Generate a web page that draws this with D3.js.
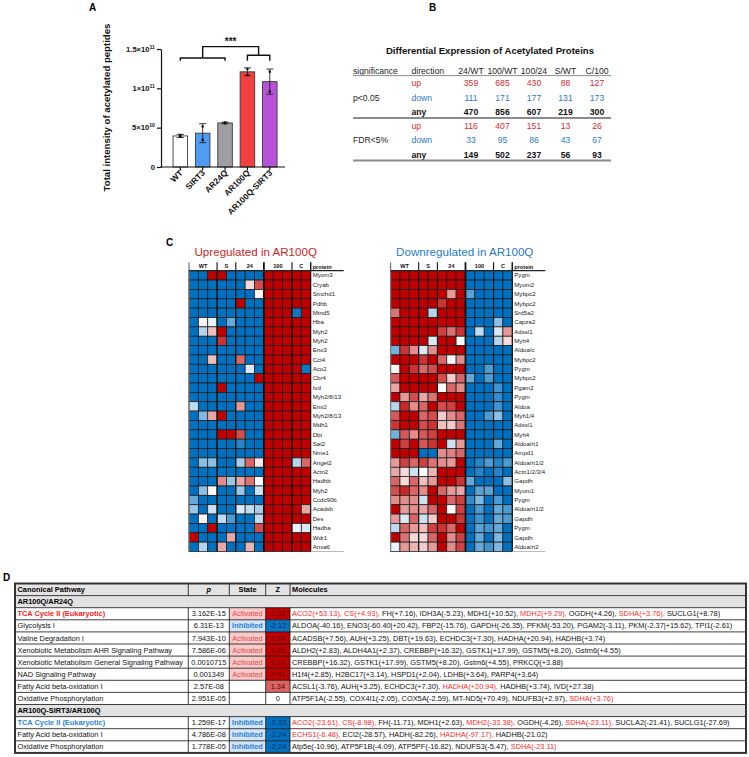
<!DOCTYPE html>
<html><head><meta charset="utf-8">
<script src="https://cdn.jsdelivr.net/npm/d3@7"></script>
<style>body{margin:0;background:#fff}svg{display:block}</style>
</head><body>
<script>
// ================= DATA =================
// Panel A
const groupsA = ["WT","SIRT3","AR24Q","AR100Q","AR100Q-SIRT3"];
const meansA = [3.95e10, 4.3e10, 5.6e10, 1.21e11, 1.085e11];
const sdA = [0.2e10, 1.2e10, 0.1e10, 0.5e10, 1.6e10];
const pointsA = [[3.85e10,4.05e10],[5.15e10,3.45e10],[5.55e10,5.65e10],[1.245e11,1.17e11],[1.21e11,0.96e11]];
const colorsA = ["#ffffff","#4f9cf2","#9e9ea3","#f23f3f","#b653d9"];
const yTicksA = [0, 5e10, 1e11, 1.5e11];
const yTickBase = ["0","5×10","1×10","1.5×10"];
const yTickExp = ["","10","11","11"];
const yTitleA = "Total intensity of acetylated peptides";

// Panel B
const bTitle = "Differential Expression of Acetylated Proteins";
const bCols = ["24/WT","100/WT","100/24","S/WT","C/100"];
const bSig = ["p<0.05","FDR<5%"];
const bDirs = ["up","down","any"];
const pUp = [359,685,430,88,127];
const pDown = [111,171,177,131,173];
const pAny = [470,856,607,219,300];
const fUp = [116,407,151,13,26];
const fDown = [33,95,86,43,67];
const fAny = [149,502,237,56,93];

// Panel C
const heatGroups = ["WT","S","24","100","C"];
const heatGroupSizes = [3,2,3,3,2];
const upProteins = ["Myom3","Cryab","Smchd1","Pdhb","Mtnd5","Hba","Myh2","Myh2","Eno3","Cct4","Aco2","Cbr4","Ivd","Myh2/8/13","Emi2","Myh2/8/13","Mdh1","Dbt","Sat2","Nme1","Angel2","Actn2","Hadhb","Myh2","Ccdc90b","Acadsb","Des","Hadha","Wdr1","Anxa6"];
const upValues = [
 [-1,-1,1,1,-1,-1,-1,-1,1,1,1,1,1],
 [-1,-1,-1,-1,-1,-1,0.15,0.7,1,1,1,1,1],
 [-1,-1,-1,-1,-1,-1,-1,0.05,1,1,1,1,1],
 [-1,-1,-1,-1,-1,1,-1,-1,1,1,1,1,1],
 [-1,-1,-1,-1,-1,-1,-1,-1,1,1,1,-0.95,1],
 [-1,0.05,-0.1,-1,-0.6,-1,-1,-1,1,1,1,1,1],
 [-1,-0.3,0.25,1,-1,-1,-1,-1,1,1,1,1,1],
 [-1,-1,-1,0.8,-1,-1,-1,-1,1,1,1,1,1],
 [-1,-1,-1,-1,-1,-1,-1,-1,1,1,1,1,1],
 [-1,-1,0.25,-1,-1,0.6,-1,-1,1,1,1,1,1],
 [-1,-1,-1,-1,-1,-1,-0.15,-1,1,1,1,1,-0.95],
 [-1,-1,-1,-1,-1,-1,-1,1,1,1,1,1,1],
 [-1,-1,-1,1,-1,-1,-1,-1,1,1,1,1,1],
 [-1,-1,-1,-1,-1,-1,-1,-1,1,1,1,1,1],
 [-0.25,-1,-1,-1,-1,0.4,-1,-1,1,1,1,1,1],
 [-1,-0.5,0.35,1,-1,-1,-1,-1,1,1,1,1,1],
 [-1,-1,-1,-1,-1,-1,-1,-1,1,1,1,1,1],
 [-1,-1,-1,1,1,0.7,-1,-1,1,1,1,1,1],
 [-1,-1,-1,-1,-1,-0.85,-1,-1,1,1,1,1,1],
 [-1,-1,-1,-1,-1,-1,-1,-1,1,1,1,1,1],
 [-1,-0.45,-0.45,-1,-1,-0.35,0.6,0.1,1,1,1,-0.3,0.6],
 [-1,-1,-1,-1,-1,-1,-1,-1,1,1,1,1,1],
 [-1,-1,-1,0.45,-0.4,0.35,0.55,0,1,1,1,1,1],
 [-1,-0.45,0.02,-1,-1,-0.4,-1,-0.2,1,1,1,1,1],
 [-0.6,-1,-1,-1,-1,-1,-1,-1,1,1,1,1,1],
 [-0.4,-1,-0.2,-1,-1,-0.15,-0.25,-0.35,1,1,1,1,0.35],
 [-1,0.05,-1,-0.25,-0.7,-1,-1,-0.25,1,1,1,1,1],
 [-1,-1,1,-1,-1,-1,-1,0.7,1,1,1,-0.08,-0.15],
 [1,-1,-1,-1,0.35,-1,-1,-1,1,1,1,1,1],
 [-1,-0.3,-1,0.35,-1,-1,0.3,-1,1,1,1,1,1]
];
const downProteins = ["Pygm","Myom2","Mybpc2","Mybpc2","Srd5a2","Capza2","Adssl1","Myh4","Aldoa/c","Mybpc2","Pygm","Mybpc2","Pgam2","Pygm","Aldoa","Myh1/4","Adssl1","Myh4","Aldoa/rt1","Ampd1","Aldoa/rt1/2","Actn1/2/3/4","Gapdh","Myom1","Pygm","Aldoa/rt1/2","Gapdh","Pygm","Gapdh","Aldoa/rt2"];
const downValues = [
 [1,1,1,1,1,1,1,1,-1,-1,-1,-1,-1],
 [1,1,1,1,1,1,1,1,-1,-1,-1,-1,-1],
 [1,1,1,1,1,1,0.4,1,-0.65,-1,-1,-1,-1],
 [1,1,1,1,1,0.8,1,1,-1,-1,-1,-1,-1],
 [0.55,1,1,1,-0.3,1,1,1,-1,-1,-1,-1,-1],
 [1,1,1,1,1,1,1,1,-1,-1,-1,-0.45,-1],
 [1,1,1,1,1,0.75,0.55,0.8,-1,-0.25,-1,-0.15,0.4],
 [1,1,1,1,-0.15,1,1,0,-1,-1,-1,-0.3,0.15],
 [-0.55,0.8,0.45,-0.15,0.45,1,1,1,-1,-1,-1,-1,-1],
 [1,1,1,0.8,1,0.6,-0.05,0.45,-1,-1,-1,-1,-1],
 [0.05,1,0.8,0.6,0.7,1,1,1,-1,-1,-0.7,-1,-1],
 [0.65,1,1,1,1,0.7,0.2,0.6,-0.6,-1,-0.7,-1,-1],
 [0.35,1,1,1,1,0.02,0.6,0.45,-1,-1,-1,-0.75,-1],
 [1,0.4,0.7,0.35,0.55,1,1,1,-1,-1,-1,-0.8,-1],
 [-0.3,0.85,0.45,0.6,1,0.7,0.75,1,-1,-1,-1,-0.75,-1],
 [0.65,1,1,0.6,0.7,0.2,0.45,0.6,-1,-1,-0.7,-0.45,-1],
 [0.8,1,1,0.7,0.8,0.25,0.2,0.55,-1,-1,-1,-1,-1],
 [-0.55,0.65,0.45,0.65,0.75,1,1,1,-1,-1,-1,-1,-1],
 [1,0.75,1,0.65,0.8,1,-0.2,0.4,-1,-1,-1,-0.6,-1],
 [1,1,1,-1,-1,0.45,0.5,0.6,-1,-1,-1,-1,-1],
 [0.4,0.75,0.6,0.75,0.55,0.45,0.4,1,-1,-0.85,-0.7,-0.85,-0.7],
 [0.35,0.15,-0.2,0,0.3,1,1,1,-1,-0.85,-1,-0.85,-1],
 [0.6,0.15,0.6,0.25,0.4,1,1,0.8,-0.6,-1,-1,-1,-0.45],
 [0.7,0.85,0.6,0.45,1,0.6,0.4,0.35,-1,-0.65,-0.65,-1,-1],
 [0.45,0.45,0.45,-0.2,1,1,0.6,0.75,-0.8,-0.5,-1,-0.7,-1],
 [1,0.4,0.45,0.35,0.6,1,0,0.75,-1,-0.7,-1,-0.6,-0.7],
 [0.4,-0.15,0.6,-0.2,0.2,1,1,0.8,-1,-0.75,-1,-0.6,-0.7],
 [-0.25,0.6,0.4,0.25,0.75,0.8,0.6,1,-1,-0.65,-0.75,-0.6,-1],
 [1,0.55,0.15,0.15,0.6,1,0.45,0.75,-1,-0.6,-1,-0.5,-1],
 [-0.1,0.4,0.3,0.2,0.4,1,0.45,0.75,-1,-0.6,-0.75,-0.5,-1]
];

// Panel D
const dHeaders = ["Canonical Pathway","p","State","Z","Molecules"];
const dSections = ["AR100Q/AR24Q","AR100Q-SIRT3/AR100Q"];
const dSectionOf = [0,0,0,0,0,0,0,0,1,1,1];
const dPathways = ["TCA Cycle II (Eukaryotic)","Glycolysis I","Valine Degradation I","Xenobiotic Metabolism AHR Signaling Pathway","Xenobiotic Metabolism General Signaling Pathway","NAD Signaling Pathway","Fatty Acid beta-oxidation I","Oxidative Phosphorylation","TCA Cycle II (Eukaryotic)","Fatty Acid beta-oxidation I","Oxidative Phosphorylation"];
const dP = ["3.162E-15","6.31E-13","7.943E-10","7.586E-06","0.0010715","0.001349","2.57E-08","2.951E-05","1.259E-17","4.786E-08","1.778E-05"];
const dState = ["Activated","Inhibited","Activated","Activated","Activated","Activated","","","Inhibited","Inhibited","Inhibited"];
const dZ = [2.33,-2.12,2.24,2.45,2.24,2.24,1.34,0,-2.33,-2.24,-2.24];
const dMolecules = [
 "ACO2(+53.13), CS(+4.93), FH(+7.16), IDH3A(-5.23), MDH1(+10.52), MDH2(+9.29), OGDH(+4.26), SDHA(+3.76), SUCLG1(+8.78)",
 "ALDOA(-40.16), ENO3(-60.40|+20.42), FBP2(-15.76), GAPDH(-26.35), PFKM(-53.20), PGAM2(-3.11), PKM(-2.37|+15.62), TPI1(-2.61)",
 "ACADSB(+7.56), AUH(+3.25), DBT(+19.63), ECHDC3(+7.30), HADHA(+20.94), HADHB(+3.74)",
 "ALDH2(+2.83), ALDH4A1(+2.37), CREBBP(+16.32), GSTK1(+17.99), GSTM5(+8.20), Gstm6(+4.55)",
 "CREBBP(+16.32), GSTK1(+17.99), GSTM5(+8.20), Gstm6(+4.55), PRKCQ(+3.88)",
 "H1f4(+2.85), H2BC17(+3.14), HSPD1(+2.04), LDHB(+3.64), PARP4(+3.64)",
 "ACSL1(-3.76), AUH(+3.25), ECHDC3(+7.30), HADHA(+20.94), HADHB(+3.74), IVD(+27.38)",
 "ATP5F1A(-2.55), COX4I1(-2.05), COX5A(-2.59), MT-ND5(+70.49), NDUFB3(+2.97), SDHA(+3.76)",
 "ACO2(-23.61), CS(-8.98), FH(-11.71), MDH1(+2.63), MDH2(-33.38), OGDH(-4.26), SDHA(-23.11), SUCLA2(-21.41), SUCLG1(-27.69)",
 "ECHS1(-6.48), ECI2(-28.57), HADH(-82.26), HADHA(-97.17), HADHB(-21.02)",
 "Atp5e(-10.96), ATP5F1B(-4.09), ATP5PF(-16.82), NDUFS3(-5.47), SDHA(-23.11)"
];
const dHighlight = [["ACO2","CS","MDH2","SDHA"],[],[],[],[],[],["HADHA"],["SDHA"],["ACO2","CS","MDH2","SDHA"],["ECHS1","HADHA"],["SDHA"]];

// ================= DRAW =================
const FONT = "'Liberation Sans',Arial,sans-serif";
const svg = d3.select("body").append("svg").attr("width",749).attr("height",757)
  .style("font-family",FONT);

function label(t,x,y){svg.append("text").attr("x",x).attr("y",y).attr("font-size",10).attr("font-weight","bold").text(t);}
label("A",89,11); label("B",429,11); label("C",166,246); label("D",3,581);

// ---------- Panel A ----------
(function(){
  const g = svg.append("g");
  const x = d3.scaleBand().domain(groupsA).range([165.2,284.9]).paddingInner(0.35).paddingOuter(0.35);
  const y = d3.scaleLinear().domain([0,1.5e11]).range([167,49]);
  // bars
  g.selectAll("rect.bar").data(groupsA).join("rect").attr("class","bar")
    .attr("x",d=>x(d)).attr("width",x.bandwidth())
    .attr("y",(d,i)=>y(meansA[i])).attr("height",(d,i)=>y(0)-y(meansA[i]))
    .attr("fill",(d,i)=>colorsA[i]).attr("stroke","#3a3a3a").attr("stroke-width",0.9);
  // error bars
  groupsA.forEach((d,i)=>{
    const cx = x(d)+x.bandwidth()/2;
    const lo=y(meansA[i]-sdA[i]), hi=y(meansA[i]+sdA[i]);
    g.append("line").attr("x1",cx).attr("x2",cx).attr("y1",lo).attr("y2",hi).attr("stroke","#222").attr("stroke-width",0.9);
    [lo,hi].forEach(v=>g.append("line").attr("x1",cx-3.5).attr("x2",cx+3.5).attr("y1",v).attr("y2",v).attr("stroke","#222").attr("stroke-width",0.9));
    pointsA[i].forEach((p,j)=>{
      if(j===0) g.append("circle").attr("cx",cx).attr("cy",y(p)).attr("r",1.3).attr("fill","#111");
      else g.append("rect").attr("x",cx-1.2).attr("y",y(p)-1.2).attr("width",2.4).attr("height",2.4).attr("fill","#111");
    });
  });
  // y axis
  const ya = g.append("g").attr("transform","translate(161,0)")
    .call(d3.axisLeft(y).tickValues(yTicksA).tickSize(4).tickSizeOuter(0).tickFormat(""));
  ya.selectAll("path,line").attr("stroke","#111").attr("stroke-width",1.2);
  yTicksA.forEach((v,i)=>{
    const t = g.append("text").attr("x",155).attr("y",y(v)+2.8).attr("text-anchor","end")
      .attr("font-size",7.6).attr("font-weight","bold").attr("fill","#111");
    t.append("tspan").text(yTickBase[i]);
    if(yTickExp[i]) t.append("tspan").attr("font-size",5.2).attr("dy",-3.2).text(yTickExp[i]);
  });
  // x axis
  g.append("line").attr("x1",160.4).attr("x2",285).attr("y1",167).attr("y2",167).attr("stroke","#111").attr("stroke-width",1.2);
  groupsA.forEach(d=>{
    const cx = x(d)+x.bandwidth()/2;
    g.append("line").attr("x1",cx).attr("x2",cx).attr("y1",167).attr("y2",170.5).attr("stroke","#111").attr("stroke-width",1.2);
    g.append("text").attr("transform",`translate(${cx+3},${173.5}) rotate(-45)`).attr("text-anchor","end")
      .attr("font-size",8.4).attr("font-weight","bold").attr("fill","#111").text(d);
  });
  // y title
  g.append("text").attr("transform","translate(109.5,107.5) rotate(-90)").attr("text-anchor","middle")
    .attr("font-size",9.6).attr("font-weight","bold").attr("fill","#111").text(yTitleA);
  // significance brackets
  const cxs = groupsA.map(d=>x(d)+x.bandwidth()/2);
  const br = g.append("g").attr("fill","none").attr("stroke","#111").attr("stroke-width",1.4);
  const yl = y(1.385e11), yr = y(1.42e11), yleg = y(1.35e11), yt = y(1.53e11);
  br.append("path").attr("d",`M${cxs[0]},${yleg}V${yl}H${cxs[2]}V${yleg}`);
  br.append("path").attr("d",`M${cxs[3]},${yleg}V${yr}H${cxs[4]}V${yleg}`);
  const ml=(cxs[0]+cxs[2])/2, mr=(cxs[3]+cxs[4])/2;
  br.append("path").attr("d",`M${ml},${yl}V${yt}H${mr}V${yr}`);
  g.append("text").attr("x",(ml+mr)/2).attr("y",yt-2).attr("text-anchor","middle").attr("font-size",10)
    .attr("font-weight","bold").attr("fill","#111").text("***");
})();

// ---------- Panel B ----------
(function(){
  const g = svg.append("g");
  g.append("text").attr("x",490).attr("y",53.5).attr("text-anchor","middle").attr("font-size",9.6)
    .attr("font-weight","bold").attr("fill","#111").text(bTitle);
  const x = d3.scalePoint().domain(bCols).range([471,597]);
  const fs = 8.6;
  const hy = 73.5;
  g.append("text").attr("x",353).attr("y",hy).attr("font-size",fs).attr("fill","#222").text("significance");
  g.append("text").attr("x",411.5).attr("y",hy).attr("font-size",fs).attr("fill","#222").text("direction");
  bCols.forEach(c=>g.append("text").attr("x",x(c)).attr("y",hy).attr("text-anchor","middle").attr("font-size",fs).attr("fill","#222").text(c));
  const blocks = [[pUp,pDown,pAny],[fUp,fDown,fAny]];
  const dirColor = ["#d9272e","#2f78c8","#111"];
  const y0 = 83.3, step = 14.25;
  blocks.forEach((blk,bi)=>{
    blk.forEach((vals,ri)=>{
      const yy = y0 + (bi*3+ri)*step + 3;
      g.append("text").attr("x",411.5).attr("y",yy).attr("font-size",fs).attr("fill",dirColor[ri])
        .attr("font-weight",ri===2?"bold":"normal").text(bDirs[ri]);
      vals.forEach((v,ci)=>g.append("text").attr("x",x(bCols[ci])).attr("y",yy).attr("text-anchor","middle")
        .attr("font-size",fs).attr("fill",dirColor[ri]).attr("font-weight",ri===2?"bold":"normal").text(v));
    });
    g.append("text").attr("x",353).attr("y",y0+(bi*3+1)*step+3).attr("font-size",fs).attr("fill","#222").text(bSig[bi]);
  });
  g.append("line").attr("x1",353).attr("x2",611).attr("y1",75.6).attr("y2",75.6).attr("stroke","#8c8c8c").attr("stroke-width",1);
  [118,160.5].forEach(v=>g.append("line").attr("x1",353).attr("x2",611).attr("y1",v).attr("y2",v).attr("stroke","#8c8c8c").attr("stroke-width",1.8));
})();

// ---------- Panel C ----------
const heatColor = d3.scaleLinear().domain([-1,0,1]).range(["#0070c0","#ffffff","#c00000"]);
function drawHeat(x0,y0,proteins,values,title,titleColor){
  const g = svg.append("g");
  const cw = 9.36;
  const ncol = values[0].length;
  const x = d3.scaleBand().domain(d3.range(ncol)).range([x0,x0+ncol*cw]);
  const y = d3.scaleBand().domain(d3.range(proteins.length)).range([y0,y0+proteins.length*cw]);
  g.append("text").attr("x",x0+5.5).attr("y",y0-14.5).attr("font-size",11.6).attr("fill",titleColor).text(title);
  values.forEach((row,ri)=>row.forEach((v,ci)=>{
    g.append("rect").attr("x",x(ci)).attr("y",y(ri)).attr("width",cw).attr("height",cw)
      .attr("fill",heatColor(v)).attr("stroke","#1a1a1a").attr("stroke-width",0.75);
  }));
  const xr = x0+ncol*cw, yb = y0+proteins.length*cw;
  // group boundaries
  let acc=0; const bounds=[0];
  heatGroupSizes.forEach(s=>{acc+=s;bounds.push(acc);});
  bounds.forEach((b,i)=>{
    const bx = x0+b*cw;
    const w = (b===8)?1.8:(i===0?1.2:1.1);
    g.append("line").attr("x1",bx).attr("x2",bx).attr("y1",y0-8.5).attr("y2",i===0?yb:y0).attr("stroke",i===0?"#777":"#111").attr("stroke-width",w);
    if(i>0 && i<bounds.length-1) g.append("line").attr("x1",bx).attr("x2",bx).attr("y1",y0).attr("y2",yb).attr("stroke","#111").attr("stroke-width",w);
  });
  g.append("line").attr("x1",xr).attr("x2",xr).attr("y1",y0-8.5).attr("y2",yb).attr("stroke","#111").attr("stroke-width",1.1);
  heatGroups.forEach((gr,i)=>{
    const cx = x0+(bounds[i]+bounds[i+1])/2*cw;
    g.append("text").attr("x",cx).attr("y",y0-2.5).attr("text-anchor","middle").attr("font-size",5.6).attr("font-weight","bold").attr("fill","#111").text(gr);
  });
  g.append("text").attr("x",xr+2).attr("y",y0-2.2).attr("font-size",5.6).attr("font-weight","bold").attr("fill","#111").text("protein");
  g.append("line").attr("x1",x0).attr("x2",xr+33).attr("y1",y0).attr("y2",y0).attr("stroke","#222").attr("stroke-width",1.3);
  g.append("line").attr("x1",xr).attr("x2",xr+33).attr("y1",yb).attr("y2",yb).attr("stroke","#aaa").attr("stroke-width",0.8);
  proteins.forEach((p,ri)=>g.append("text").attr("x",xr+2).attr("y",y(ri)+cw/2+2.1)
    .attr("font-size",6.1).attr("fill","#222").text(p));
}
drawHeat(189,270.7,upProteins,upValues,"Upregulated in AR100Q","#cc1f26");
drawHeat(390.6,270.7,downProteins,downValues,"Downregulated in AR100Q","#2479d0");

// ---------- Panel D ----------
(function(){
  const g = svg.append("g");
  const L=15, R=746, cP=188.3, cS=229.3, cZ=265.7, cM=290;
  const top=583.5, rh=12.1;
  const rows=[{type:"header"}];
  dSections.forEach((s,si)=>{
    rows.push({type:"section",text:s});
    dPathways.forEach((p,i)=>{ if(dSectionOf[i]===si) rows.push({type:"data",i}); });
  });
  const y = d3.scaleBand().domain(d3.range(rows.length)).range([top,top+rows.length*rh]);
  const fs=7.4;
  const zColor = d3.scaleLinear().domain([-2.2,0,2.2]).range(["#0070c0","#ffffff","#c00000"]).clamp(true);
  rows.forEach((r,ri)=>{
    const ry=y(ri), cy=ry+rh/2, by=cy+2.6;
    if(r.type==="header"){
      g.append("rect").attr("x",L).attr("y",ry).attr("width",R-L).attr("height",rh).attr("fill","#e4e4e4");
      g.append("text").attr("x",L+2.5).attr("y",by).attr("font-size",fs).attr("font-weight","bold").text(dHeaders[0]);
      g.append("text").attr("x",(cP+cS)/2).attr("y",by).attr("text-anchor","middle").attr("font-size",fs).attr("font-weight","bold").attr("font-style","italic").text(dHeaders[1]);
      g.append("text").attr("x",(cS+cZ)/2).attr("y",by).attr("text-anchor","middle").attr("font-size",fs).attr("font-weight","bold").text(dHeaders[2]);
      g.append("text").attr("x",(cZ+cM)/2).attr("y",by).attr("text-anchor","middle").attr("font-size",fs).attr("font-weight","bold").text(dHeaders[3]);
      g.append("text").attr("x",cM+2).attr("y",by).attr("font-size",fs).attr("font-weight","bold").text(dHeaders[4]);
    } else if(r.type==="section"){
      g.append("rect").attr("x",L).attr("y",ry).attr("width",R-L).attr("height",rh).attr("fill","#e2e2e2");
      g.append("text").attr("x",L+2.5).attr("y",by).attr("font-size",fs).attr("font-weight","bold").text(r.text);
    } else {
      const i=r.i;
      const isTCA = dPathways[i].startsWith("TCA");
      g.append("text").attr("x",L+2.5).attr("y",by).attr("font-size",fs)
        .attr("font-weight",isTCA?"bold":"normal")
        .attr("fill",isTCA?(dSectionOf[i]===0?"#ff2020":"#2f86d8"):"#111").text(dPathways[i]);
      g.append("text").attr("x",(cP+cS)/2).attr("y",by).attr("text-anchor","middle").attr("font-size",fs).attr("fill","#111").text(dP[i]);
      if(dState[i]){
        const act = dState[i]==="Activated";
        g.append("rect").attr("x",cS).attr("y",ry).attr("width",cZ-cS).attr("height",rh).attr("fill",act?"#f8caca":"#d3e5f6");
        g.append("text").attr("x",(cS+cZ)/2).attr("y",by).attr("text-anchor","middle").attr("font-size",fs)
          .attr("font-weight",act?"normal":"bold").attr("fill",act?"#e24a4a":"#2e7fd2").text(dState[i]);
      }
      g.append("rect").attr("x",cZ).attr("y",ry).attr("width",cM-cZ).attr("height",rh).attr("fill",zColor(dZ[i]));
      g.append("text").attr("x",(cZ+cM)/2).attr("y",by).attr("text-anchor","middle").attr("font-size",fs)
        .attr("fill",dZ[i]>0?"#5c0000":(dZ[i]<0?"#0b2c5c":"#111")).text(dZ[i]===0?"0":dZ[i].toFixed(2));
      const t = g.append("text").attr("x",cM+2).attr("y",by).attr("font-size",fs).attr("fill","#111");
      const items = dMolecules[i].split(", ");
      items.forEach((it,k)=>{
        const name = it.split("(")[0];
        t.append("tspan").attr("fill",dHighlight[i].includes(name)?"#ff2a2a":"#111").text(it+(k<items.length-1?",":""));
        if(k<items.length-1) t.append("tspan").text(" ");
      });
    }
  });
  // grid lines
  const bottom = top+rows.length*rh;
  for(let ri=1; ri<rows.length; ri++){
    const yy=y(ri);
    g.append("line").attr("x1",L).attr("x2",R).attr("y1",yy).attr("y2",yy).attr("stroke","#111").attr("stroke-width",0.8);
  }
  rows.forEach((r,ri)=>{
    if(r.type==="section") return;
    [cP,cS,cZ,cM].forEach(cx=>g.append("line").attr("x1",cx).attr("x2",cx).attr("y1",y(ri)).attr("y2",y(ri)+rh).attr("stroke","#111").attr("stroke-width",0.8));
  });
  g.append("rect").attr("x",L).attr("y",top).attr("width",R-L).attr("height",bottom-top)
    .attr("fill","none").attr("stroke","#333").attr("stroke-width",2);
})();
</script>
</body></html>
